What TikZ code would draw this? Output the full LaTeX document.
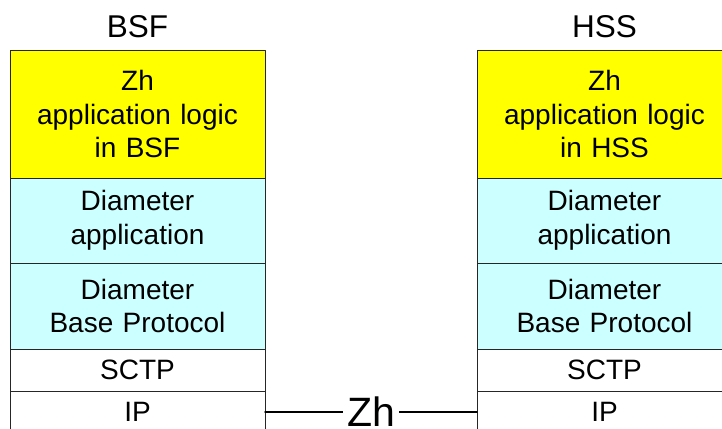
\documentclass[tikz,border=0pt]{standalone}
\usepackage{fontspec}
\setmainfont{Liberation Sans}
\usetikzlibrary{positioning}

\definecolor{logicyellow}{RGB}{255,255,0}
\definecolor{diamcyan}{RGB}{204,255,255}

\begin{document}
\begin{tikzpicture}[x=1pt, y=1pt, line cap=round, line join=round,
  layer/.style={draw=black!85, line width=0.9pt, minimum width=255pt,
    text width=250pt, align=center, inner sep=0pt, outer sep=0pt,
    font=\fontsize{28}{33.6}\selectfont},
  entity/.style={inner sep=0pt, font=\fontsize{31.5}{36}\selectfont},
  iflabel/.style={fill=white, inner xsep=4pt, inner ysep=0pt,
    font=\fontsize{41}{48}\selectfont}]

\useasboundingbox (0,0) rectangle (722,-428);
\clip (0,0) rectangle (722,-428);

% \protostack{prefix}{x}{entity}
\newcommand{\protostack}[3]{%
  % application logic on top
  \node[layer, fill=logicyellow, minimum height=128pt, anchor=north west]
    (#1logic) at (#2,-50) {Zh\\application logic\\in #3};
  % Diameter layers
  \node[layer, fill=diamcyan, minimum height=85pt, below=0pt of #1logic]
    (#1dapp) {Diameter\\application};
  \node[layer, fill=diamcyan, minimum height=86pt, below=0pt of #1dapp]
    (#1dbase) {Diameter\\Base Protocol};
  % transport
  \node[layer, minimum height=42pt, below=0pt of #1dbase] (#1sctp) {SCTP};
  \node[layer, minimum height=42pt, below=0pt of #1sctp] (#1ip) {IP};
  % entity name above the stack
  \node[entity, above=12pt of #1logic] (#1name) {#3};
}

\protostack{bsf}{10}{BSF}
\protostack{hss}{477}{HSS}

% Zh reference point
\draw[line width=1.5pt] (bsfip.east) -- node[iflabel] (zh) {Zh} (hssip.west);

\end{tikzpicture}
\end{document}
